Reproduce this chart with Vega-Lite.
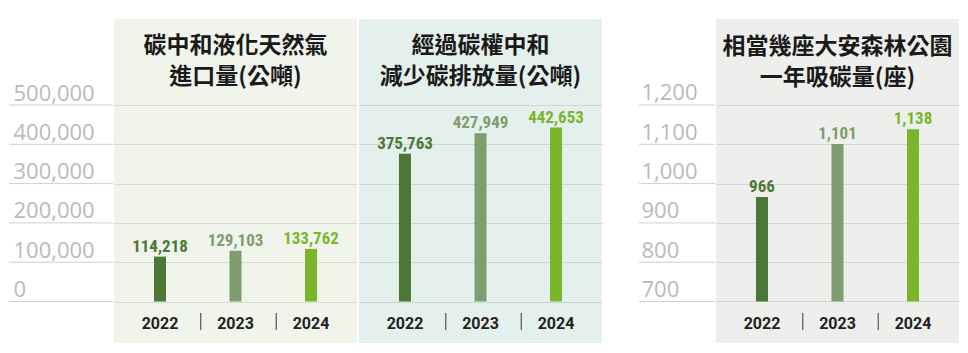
{
  "$schema": "https://vega.github.io/schema/vega-lite/v6.json",
  "background": "white",
  "padding": {"left": 8, "top": 19, "right": 5, "bottom": 5},
  "config": {"view": {"stroke": null}},
  "datasets": {
    "imports": [{"year": "2022", "value": 114218}, {"year": "2023", "value": 129103}, {"year": "2024", "value": 133762}],
    "offsets": [{"year": "2022", "value": 375763}, {"year": "2023", "value": 427949}, {"year": "2024", "value": 442653}],
    "parks": [{"year": "2022", "value": 966}, {"year": "2023", "value": 1101}, {"year": "2024", "value": 1138}],
    "ticksA": [{"v": 0}, {"v": 100000}, {"v": 200000}, {"v": 300000}, {"v": 400000}, {"v": 500000}],
    "ticksC": [{"v": 700}, {"v": 800}, {"v": 900}, {"v": 1000}, {"v": 1100}, {"v": 1200}],
    "seps": [{"year": "2022"}, {"year": "2023"}]
  },
  "spacing": 36,
  "hconcat": [
    {
      "spacing": 2,
      "hconcat": [
        {
          "spacing": 0,
          "hconcat": [
            {
              "width": 104, "height": 324,
              "data": {"name": "ticksA"},
              "mark": {"type": "rule", "color": "#cfcfcf", "strokeWidth": 1},
              "encoding": {
                "y": {"field": "v", "type": "quantitative",
                  "scale": {"domain": [-105598, 718830], "nice": false, "zero": false},
                  "axis": {"values": [0, 100000, 200000, 300000, 400000, 500000], "format": ",d", "domain": false, "ticks": false, "grid": false,
                    "labelAlign": "left", "labelBaseline": "alphabetic", "labelPadding": -4, "labelOffset": -5,
                    "labelFont": "Open Sans", "labelFontSize": 22, "labelFontWeight": 400, "labelColor": "#bababa",
                    "labelOverlap": false, "labelFlush": false, "labelBound": false, "title": null}}
              }
            },
            {
              "width": 243, "height": 324,
              "view": {"fill": "#f1f4eb", "stroke": null},
              "layer": [
                {
                  "data": {"name": "imports"},
                  "mark": {"type": "bar", "width": 12},
                  "encoding": {
                    "x": {"field": "year", "type": "nominal", "scale": {"paddingOuter": 0.109, "paddingInner": 0},
                      "axis": {"domain": false, "ticks": false, "labelAngle": 0, "labelPadding": -15, "labelBaseline": "alphabetic",
                        "labelFont": "Roboto", "labelFontSize": 16, "labelFontWeight": "bold", "labelColor": "#222222", "title": null}},
                    "y": {"field": "value", "type": "quantitative",
                      "scale": {"domain": [-105598, 718830], "nice": false, "zero": false},
                      "axis": {"values": [0, 100000, 200000, 300000, 400000, 500000], "grid": true, "gridColor": "#000000", "gridOpacity": 0.1,
                        "labels": false, "ticks": false, "domain": false, "title": null}},
                    "y2": {"datum": 0},
                    "color": {"field": "year", "type": "nominal", "scale": {"domain": ["2022", "2023", "2024"], "range": ["#4b7737", "#7f9d6e", "#7ab52c"]}, "legend": null}
                  }
                },
                {
                  "data": {"name": "imports"},
                  "mark": {"type": "text", "baseline": "alphabetic", "dy": -5, "font": "Roboto Condensed, Roboto", "fontWeight": "bold", "fontSize": 17},
                  "encoding": {
                    "x": {"field": "year", "type": "nominal"},
                    "y": {"field": "value", "type": "quantitative"},
                    "text": {"field": "value", "type": "quantitative", "format": ","},
                    "color": {"field": "year", "type": "nominal", "legend": null}
                  }
                },
                {
                  "data": {"name": "seps"},
                  "mark": {"type": "rule", "color": "#555555", "strokeWidth": 1.2, "xOffset": 3},
                  "encoding": {
                    "x": {"field": "year", "type": "nominal", "bandPosition": 1},
                    "y": {"datum": -29253},
                    "y2": {"datum": -72509}
                  }
                },
                {
                  "data": {"values": [{"t": "碳中和液化天然氣\n進口量(公噸)"}]},
                  "mark": {"type": "text", "lineBreak": "\n", "baseline": "top", "align": "center", "font": "Noto Sans CJK TC", "fontWeight": "bold", "fontSize": 23, "lineHeight": 31, "color": "#1a1a1a"},
                  "encoding": {
                    "x": {"datum": "2023", "type": "nominal"},
                    "y": {"datum": 676846},
                    "text": {"field": "t"}
                  }
                }
              ]
            }
          ]
        },
        {
          "width": 243, "height": 324,
          "view": {"fill": "#e4f0eb", "stroke": null},
          "layer": [
            {
              "data": {"name": "offsets"},
              "mark": {"type": "bar", "width": 12},
              "encoding": {
                "x": {"field": "year", "type": "nominal", "scale": {"paddingOuter": 0.109, "paddingInner": 0},
                  "axis": {"domain": false, "ticks": false, "labelAngle": 0, "labelPadding": -15, "labelBaseline": "alphabetic",
                    "labelFont": "Roboto", "labelFontSize": 16, "labelFontWeight": "bold", "labelColor": "#222222", "title": null}},
                "y": {"field": "value", "type": "quantitative",
                  "scale": {"domain": [-105598, 718830], "nice": false, "zero": false},
                  "axis": {"values": [0, 100000, 200000, 300000, 400000, 500000], "grid": true, "gridColor": "#000000", "gridOpacity": 0.1,
                    "labels": false, "ticks": false, "domain": false, "title": null}},
                "y2": {"datum": 0},
                "color": {"field": "year", "type": "nominal", "scale": {"domain": ["2022", "2023", "2024"], "range": ["#4b7737", "#7f9d6e", "#7ab52c"]}, "legend": null}
              }
            },
            {
              "data": {"name": "offsets"},
              "mark": {"type": "text", "baseline": "alphabetic", "dy": -5, "font": "Roboto Condensed, Roboto", "fontWeight": "bold", "fontSize": 17},
              "encoding": {
                "x": {"field": "year", "type": "nominal"},
                "y": {"field": "value", "type": "quantitative"},
                "text": {"field": "value", "type": "quantitative", "format": ","},
                "color": {"field": "year", "type": "nominal", "legend": null}
              }
            },
            {
              "data": {"name": "seps"},
              "mark": {"type": "rule", "color": "#555555", "strokeWidth": 1.2, "xOffset": 3},
              "encoding": {
                "x": {"field": "year", "type": "nominal", "bandPosition": 1},
                "y": {"datum": -29253},
                "y2": {"datum": -72509}
              }
            },
            {
              "data": {"values": [{"t": "經過碳權中和\n減少碳排放量(公噸)"}]},
              "mark": {"type": "text", "lineBreak": "\n", "baseline": "top", "align": "center", "font": "Noto Sans CJK TC", "fontWeight": "bold", "fontSize": 23, "lineHeight": 31, "color": "#1a1a1a"},
              "encoding": {
                "x": {"datum": "2023", "type": "nominal"},
                "y": {"datum": 676846},
                "text": {"field": "t"}
              }
            }
          ]
        }
      ]
    },
    {
      "spacing": 0,
      "hconcat": [
        {
          "width": 76, "height": 324,
          "data": {"name": "ticksC"},
          "mark": {"type": "rule", "color": "#cfcfcf", "strokeWidth": 1},
          "encoding": {
            "y": {"field": "v", "type": "quantitative",
              "scale": {"domain": [594.4, 1418.8], "nice": false, "zero": false},
              "axis": {"values": [700, 800, 900, 1000, 1100, 1200], "format": ",d", "domain": false, "ticks": false, "grid": false,
                "labelAlign": "left", "labelBaseline": "alphabetic", "labelPadding": -2, "labelOffset": -5,
                "labelFont": "Open Sans", "labelFontSize": 22, "labelFontWeight": 400, "labelColor": "#bababa",
                "labelOverlap": false, "labelFlush": false, "labelBound": false, "title": null}}
          }
        },
        {
          "width": 243, "height": 324,
          "view": {"fill": "#eeefec", "stroke": null},
          "layer": [
            {
              "data": {"name": "parks"},
              "mark": {"type": "bar", "width": 12},
              "encoding": {
                "x": {"field": "year", "type": "nominal", "scale": {"paddingOuter": 0.109, "paddingInner": 0},
                  "axis": {"domain": false, "ticks": false, "labelAngle": 0, "labelPadding": -15, "labelBaseline": "alphabetic",
                    "labelFont": "Roboto", "labelFontSize": 16, "labelFontWeight": "bold", "labelColor": "#222222", "title": null}},
                "y": {"field": "value", "type": "quantitative",
                  "scale": {"domain": [594.4, 1418.8], "nice": false, "zero": false},
                  "axis": {"values": [700, 800, 900, 1000, 1100, 1200], "grid": true, "gridColor": "#000000", "gridOpacity": 0.1,
                    "labels": false, "ticks": false, "domain": false, "title": null}},
                "y2": {"datum": 700},
                "color": {"field": "year", "type": "nominal", "scale": {"domain": ["2022", "2023", "2024"], "range": ["#4b7737", "#7f9d6e", "#7ab52c"]}, "legend": null}
              }
            },
            {
              "data": {"name": "parks"},
              "mark": {"type": "text", "baseline": "alphabetic", "dy": -5, "font": "Roboto Condensed, Roboto", "fontWeight": "bold", "fontSize": 17},
              "encoding": {
                "x": {"field": "year", "type": "nominal"},
                "y": {"field": "value", "type": "quantitative"},
                "text": {"field": "value", "type": "quantitative", "format": ","},
                "color": {"field": "year", "type": "nominal", "legend": null}
              }
            },
            {
              "data": {"name": "seps"},
              "mark": {"type": "rule", "color": "#555555", "strokeWidth": 1.2, "xOffset": 3},
              "encoding": {
                "x": {"field": "year", "type": "nominal", "bandPosition": 1},
                "y": {"datum": 670.7},
                "y2": {"datum": 627.5}
              }
            },
            {
              "data": {"values": [{"t": "相當幾座大安森林公園\n一年吸碳量(座)"}]},
              "mark": {"type": "text", "lineBreak": "\n", "baseline": "top", "align": "center", "font": "Noto Sans CJK TC", "fontWeight": "bold", "fontSize": 23, "lineHeight": 31, "color": "#1a1a1a"},
              "encoding": {
                "x": {"datum": "2023", "type": "nominal"},
                "y": {"datum": 1376.8},
                "text": {"field": "t"}
              }
            }
          ]
        }
      ]
    }
  ]
}
